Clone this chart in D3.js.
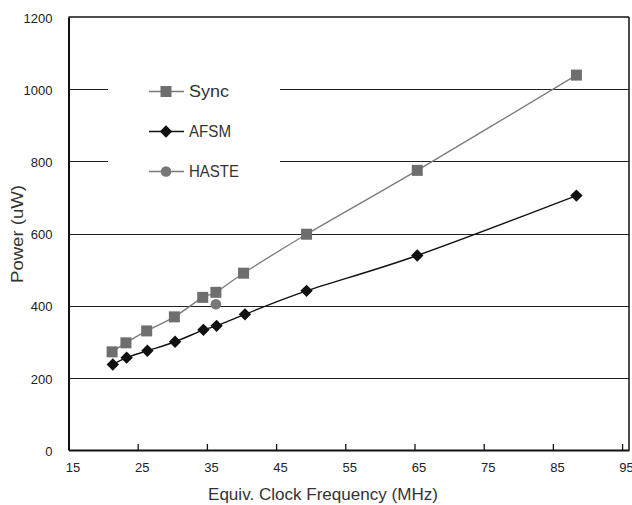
<!DOCTYPE html>
<html><head><meta charset="utf-8">
<script src="https://cdn.jsdelivr.net/npm/d3@7"></script>
<style>
html,body{margin:0;padding:0;background:#fff;}
text{font-family:"Liberation Sans",Arial,sans-serif;}
</style></head>
<body><svg id="c" width="632" height="505"></svg>
<script>
const freqs = [21.3, 23.3, 26.3, 30.3, 34.4, 36.3, 40.3, 49.4, 65.4, 88.4];
const syncPower = [272, 297, 330, 369, 423, 437, 490, 598, 775, 1039];
const afsmFreqs = [21.4, 23.4, 26.4, 30.4, 34.5, 36.4, 40.5, 49.4, 65.4, 88.4];
const afsmPower = [237, 256, 275, 300, 333, 344, 376, 441, 539, 705];
const hasteFreqs = [36.3];
const hastePower = [404];
const xTicks = [15, 25, 35, 45, 55, 65, 75, 85, 95];
const yTicks = [0, 200, 400, 600, 800, 1000, 1200];
const seriesNames = ["Sync", "AFSM", "HASTE"];

const svg = d3.select("#c");
const L = 68.5, R = 629, T = 17, B = 450;
const x = d3.scaleLinear().domain([15, 96]).range([L, R]);
const y = d3.scaleLinear().domain([0, 1200]).range([B, T]);

// gridlines
svg.append("g").selectAll("line").data(yTicks.filter(d => d > 0 && d < 1200)).join("line")
  .attr("x1", L).attr("x2", R)
  .attr("y1", d => Math.round(y(d)) + 0.5).attr("y2", d => Math.round(y(d)) + 0.5)
  .attr("stroke", "#222").attr("stroke-width", 1.2);

// frame top & right
svg.append("line").attr("x1", L).attr("x2", R).attr("y1", T).attr("y2", T).attr("stroke", "#111").attr("stroke-width", 1.5);
svg.append("line").attr("x1", R).attr("x2", R).attr("y1", T).attr("y2", B).attr("stroke", "#111").attr("stroke-width", 1.5);

// axes
const xAxis = d3.axisBottom(x).tickValues(xTicks).tickFormat(d3.format("d")).tickSizeInner(-6).tickSizeOuter(0).tickPadding(14);
const gx = svg.append("g").attr("transform", `translate(0,${B})`).call(xAxis);
gx.select(".domain").attr("stroke", "#111").attr("stroke-width", 2);
gx.selectAll(".tick line").attr("stroke", "#111").attr("stroke-width", 1.3).filter(d => d === 15).remove();
gx.selectAll(".tick text").attr("font-size", 13).attr("fill", "#222").attr("font-family", "Liberation Sans, Arial, sans-serif").attr("dx", 4).attr("dy", "0.62em");

const yAxis = d3.axisLeft(y).tickValues(yTicks).tickFormat(d3.format("d")).tickSize(0).tickPadding(16);
const gy = svg.append("g").attr("transform", `translate(${L},0)`).call(yAxis);
gy.select(".domain").attr("stroke", "#111").attr("stroke-width", 2);
gy.selectAll(".tick text").attr("font-size", 13).attr("fill", "#222").attr("font-family", "Liberation Sans, Arial, sans-serif").attr("dy", "0.4em");

// legend box (white, covers gridlines)
svg.append("rect").attr("x", 108).attr("y", 55).attr("width", 172).attr("height", 150).attr("fill", "#fff");

// series
const curve = d3.curveCatmullRom.alpha(0);
const syncData = freqs.map((f, i) => ({f, p: syncPower[i]}));
const afsmData = afsmFreqs.map((f, i) => ({f, p: afsmPower[i]}));
const hasteData = hasteFreqs.map((f, i) => ({f, p: hastePower[i]}));
const line = d3.line().x(d => x(d.f)).y(d => y(d.p)).curve(curve);

svg.append("path").datum(syncData).attr("d", line).attr("fill", "none").attr("stroke", "#7a7a7a").attr("stroke-width", 1.3);
svg.append("path").datum(afsmData).attr("d", line).attr("fill", "none").attr("stroke", "#111").attr("stroke-width", 1.4);

const sq = 11;
svg.append("g").selectAll("rect").data(syncData).join("rect")
  .attr("x", d => x(d.f) - sq/2).attr("y", d => y(d.p) - sq/2).attr("width", sq).attr("height", sq)
  .attr("fill", "#6e6e6e");
const diamond = d3.symbol().type(d3.symbolDiamond2).size(98);
svg.append("g").selectAll("path").data(afsmData).join("path")
  .attr("d", diamond).attr("transform", d => `translate(${x(d.f)},${y(d.p)})`).attr("fill", "#111");
svg.append("g").selectAll("circle").data(hasteData).join("circle")
  .attr("cx", d => x(d.f)).attr("cy", d => y(d.p)).attr("r", 5.3).attr("fill", "#777");

// legend
const lg = svg.append("g");
const legY = [91.5, 131.5, 171.5];
seriesNames.forEach((name, i) => {
  const g = lg.append("g").attr("transform", `translate(166,${legY[i]})`);
  g.append("line").attr("x1", -17).attr("x2", 18).attr("stroke", i === 1 ? "#111" : "#7a7a7a").attr("stroke-width", 1.3);
  if (i === 0) g.append("rect").attr("x", -sq/2).attr("y", -sq/2).attr("width", sq).attr("height", sq).attr("fill", "#6e6e6e");
  if (i === 1) g.append("path").attr("d", diamond).attr("fill", "#111");
  if (i === 2) g.append("circle").attr("r", 5.3).attr("fill", "#777");
  g.append("text").attr("x", 23).attr("y", 0).attr("dy", "0.36em").attr("font-size", 16).attr("fill", "#333").text(name);
});
const legW = [40, 42, 50];
lg.selectAll("text").each(function(d, i){ d3.select(this).attr("textLength", legW[i]).attr("lengthAdjust", "spacingAndGlyphs"); });

// axis titles
svg.append("text").attr("x", 323).attr("y", 500).attr("text-anchor", "middle").attr("font-size", 16).attr("fill", "#333")
  .attr("textLength", 230).attr("lengthAdjust", "spacingAndGlyphs").text("Equiv. Clock Frequency (MHz)");
svg.append("text").attr("transform", "translate(23,234) rotate(-90)").attr("text-anchor", "middle").attr("font-size", 16).attr("fill", "#333")
  .attr("textLength", 98).attr("lengthAdjust", "spacingAndGlyphs").text("Power (uW)");
</script></body></html>
